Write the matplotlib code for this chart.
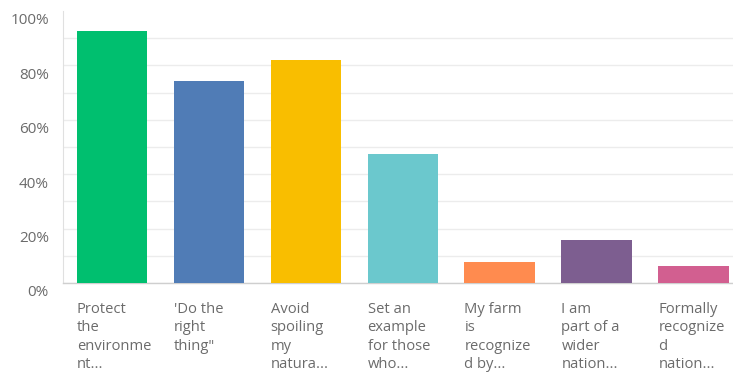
import matplotlib
matplotlib.use("Agg")
import matplotlib.pyplot as plt
import matplotlib.transforms as mtransforms
import numpy as np

plt.rcParams['font.family'] = ['Open Sans', 'DejaVu Sans']

categories = [
    "Protect\nthe\nenvironme\nnt...",
    "'Do the\nright\nthing\"",
    "Avoid\nspoiling\nmy\nnatura...",
    "Set an\nexample\nfor those\nwho...",
    "My farm\nis\nrecognize\nd by...",
    "I am\npart of a\nwider\nnation...",
    "Formally\nrecognize\nd\nnation...",
]
values = [0.926, 0.743, 0.821, 0.474, 0.076, 0.157, 0.061]
colors = ["#00BF6F", "#507CB6", "#F9BE00", "#6BC8CD", "#FF8B4F", "#7D5E90", "#D25F90"]
ytick_values = [0.0, 0.2, 0.4, 0.6, 0.8, 1.0]
ytick_labels = ["0%", "20%", "40%", "60%", "80%", "100%"]

W, H, DPI = 733, 376, 100
fig = plt.figure(figsize=(W / DPI, H / DPI), dpi=DPI)
ax = fig.add_axes([62.7 / W, 1 - 283 / H, (742 - 62.7) / W, 272 / H])

x = np.arange(len(categories))
bar_w = 0.728
ax.bar(x, values, width=bar_w, color=colors, zorder=3)

ax.set_xlim(-0.509, 6.5)
ax.set_ylim(0, 1.0)

# gridlines every 10%, labels every 20%
ax.set_yticks(ytick_values)
ax.set_yticklabels(ytick_labels)
ax.set_yticks(np.arange(0.1, 1.0, 0.2), minor=True)
ax.grid(axis='y', which='both', color='#ececec', linewidth=1.0, zorder=0)
ax.get_ygridlines()[-1].set_visible(False)
ax.set_xticks([])
ax.tick_params(axis='y', which='both', length=0, pad=10, labelsize=11, labelcolor='#6b6b6b')

label_shift = mtransforms.ScaledTranslation(0, -8 / DPI, fig.dpi_scale_trans)
for lbl in ax.get_yticklabels():
    lbl.set_transform(lbl.get_transform() + label_shift)

for side in ['top', 'right']:
    ax.spines[side].set_visible(False)
ax.spines['left'].set_color('#e0e0e0')
ax.spines['bottom'].set_color('#cfcfcf')
ax.spines['bottom'].set_linewidth(1.0)

text_trans = ax.get_xaxis_transform() + mtransforms.ScaledTranslation(0, -19 / DPI, fig.dpi_scale_trans)
for xi, cat in zip(x, categories):
    ax.text(xi - bar_w / 2, 0, cat, transform=text_trans, ha='left', va='top',
            fontsize=10.6, color='#6b6b6b', linespacing=1.31)

fig.savefig("out.png", dpi=DPI)
